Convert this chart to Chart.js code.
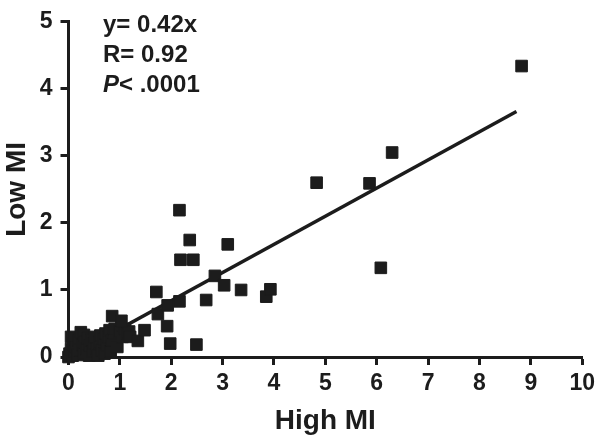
<!DOCTYPE html>
<html>
<head>
<meta charset="utf-8">
<script src="https://cdn.jsdelivr.net/npm/chart.js@4.4.1/dist/chart.umd.min.js"></script>
<style>
  html, body { margin: 0; padding: 0; background: #fff; }
  #wrap { width: 600px; height: 441px; position: relative; }
</style>
</head>
<body>
<div id="wrap"><canvas id="miChart"></canvas></div>
<script>
// High MI (x) vs Low MI (y)
const highMI = [
  0.00, 0.02, 0.05, 0.05, 0.08, 0.10, 0.12, 0.12, 0.15, 0.18,
  0.20, 0.22, 0.24, 0.27, 0.30, 0.30, 0.32, 0.35, 0.38, 0.40,
  0.42, 0.45, 0.48, 0.50, 0.52, 0.55, 0.58, 0.60, 0.62, 0.65,
  0.68, 0.70, 0.72, 0.75, 0.78, 0.80, 0.82, 0.85, 0.88, 0.90,
  0.95, 1.00, 1.05, 1.10, 1.15, 1.18, 1.20, 0.85, 1.03,
  1.35, 1.48, 1.74, 1.71, 1.92, 1.93, 1.98, 2.16, 2.16, 2.18,
  2.36, 2.43, 2.49, 2.68, 2.85, 3.03, 3.10, 3.36, 3.85, 3.93,
  4.83, 5.86, 6.08, 6.30, 8.82
];
const lowMI = [
  0.00, 0.05, 0.12, 0.30, 0.02, 0.20, 0.08, 0.28, 0.15, 0.03,
  0.25, 0.10, 0.37, 0.18, 0.05, 0.33, 0.22, 0.12, 0.28, 0.02,
  0.17, 0.25, 0.08, 0.20, 0.30, 0.12, 0.02, 0.22, 0.32, 0.10,
  0.27, 0.05, 0.35, 0.18, 0.30, 0.40, 0.08, 0.25, 0.36, 0.42,
  0.15, 0.38, 0.30, 0.42, 0.35, 0.38, 0.30, 0.61, 0.54,
  0.24, 0.40, 0.64, 0.97, 0.46, 0.77, 0.20, 0.83, 2.19, 1.45,
  1.745, 1.45, 0.185, 0.85, 1.21, 1.07, 1.68, 1.00, 0.90, 1.01,
  2.60, 2.59, 1.33, 3.05, 4.34
];

// regression through origin
const fitSlope = 0.42;
const fitRange = [0, 8.72];
const statLines = ["y= 0.42x", "R= 0.92", "< .0001"];

const xTicks = [0, 1, 2, 3, 4, 5, 6, 7, 8, 9, 10];
const yTicks = [0, 1, 2, 3, 4, 5];

const ink = "#1c1c1c";
const fontFam = "'Liberation Sans', Arial, Helvetica, sans-serif";

const points = highMI.map((v, i) => ({ x: v, y: lowMI[i] }));
const fitLine = fitRange.map(v => ({ x: v, y: v * fitSlope }));

const statsText = {
  id: "statsText",
  afterDatasetsDraw(chart) {
    const c = chart.ctx;
    c.save();
    c.fillStyle = ink;
    c.textBaseline = "alphabetic";
    c.font = "bold 24px " + fontFam;
    c.fillText(statLines[0], 103, 32);
    c.fillText(statLines[1], 103, 62);
    c.font = "italic bold 24px " + fontFam;
    c.fillText("P", 103, 92);
    const w = c.measureText("P").width;
    c.font = "bold 24px " + fontFam;
    c.fillText(statLines[2], 103 + w, 92);
    c.restore();
  }
};

const ctx = document.getElementById("miChart");
new Chart(ctx, {
  type: "scatter",
  data: {
    datasets: [
      {
        data: points,
        pointStyle: "rect",
        pointRadius: 8.2,
        pointBorderWidth: 1,
        backgroundColor: ink,
        borderColor: ink,
        clip: false,
        order: 1
      },
      {
        type: "line",
        data: fitLine,
        borderColor: ink,
        borderWidth: 3.5,
        pointRadius: 0,
        fill: false,
        order: 2
      }
    ]
  },
  options: {
    responsive: true,
    maintainAspectRatio: false,
    animation: false,
    layout: { padding: { top: 14, right: 14.5, left: 0, bottom: 0 } },
    plugins: { legend: { display: false }, tooltip: { enabled: false } },
    scales: {
      x: {
        type: "linear",
        min: 0,
        max: 10,
        afterBuildTicks: s => { s.ticks = xTicks.map(v => ({ value: v })); },
        afterFit: s => { s.height = 84; },
        border: { display: true, width: 3, color: ink },
        grid: { drawOnChartArea: false, drawTicks: true, tickLength: 8, tickWidth: 3, tickColor: ink },
        ticks: { color: ink, padding: 5, maxRotation: 0, font: { family: fontFam, size: 23, weight: "bold" } },
        title: { display: true, text: "High MI", color: ink, padding: { top: 0, bottom: 3 },
                 font: { family: fontFam, size: 28, weight: "bold" } }
      },
      y: {
        type: "linear",
        min: 0,
        max: 5,
        afterBuildTicks: s => { s.ticks = yTicks.map(v => ({ value: v })); },
        afterFit: s => { s.width = 68.5; },
        border: { display: true, width: 3, color: ink },
        grid: { drawOnChartArea: false, drawTicks: true, tickLength: 8, tickWidth: 3, tickColor: ink },
        ticks: { color: ink, padding: 8, font: { family: fontFam, size: 23, weight: "bold" } },
        title: { display: true, text: "Low MI", color: ink, padding: { top: 0, bottom: 0 },
                 font: { family: fontFam, size: 28, weight: "bold" } }
      }
    }
  },
  plugins: [statsText]
});
</script>
</body>
</html>
